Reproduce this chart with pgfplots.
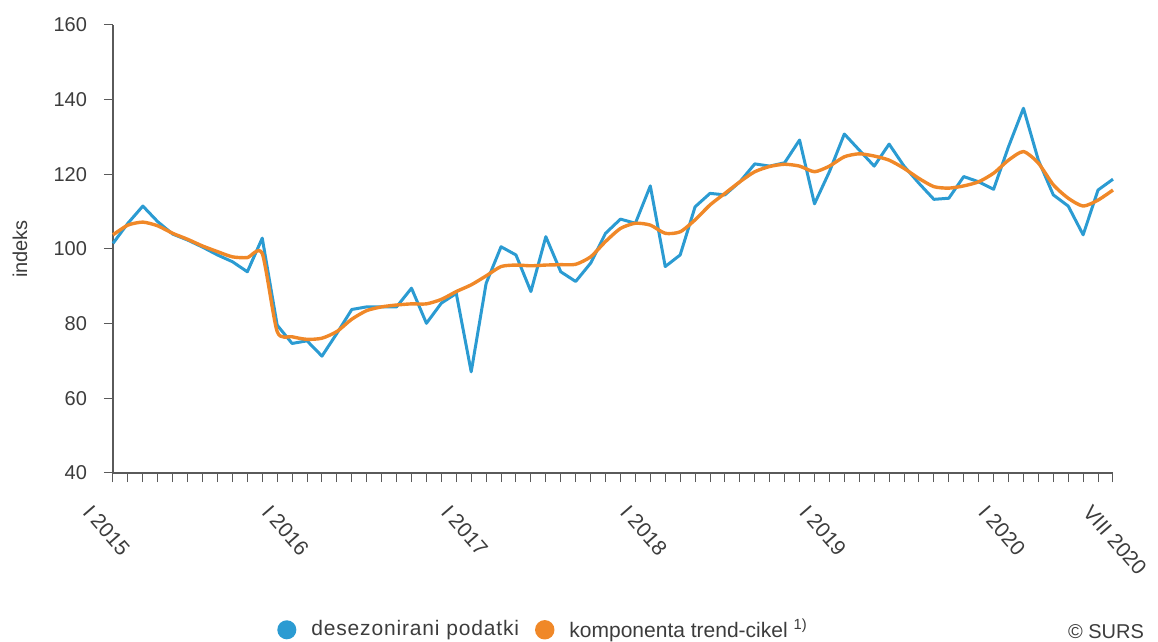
\documentclass[border=0pt]{standalone}
\usepackage{pgfplots}
\pgfplotsset{compat=1.18}
\usepackage{pgfplotstable}
\usepackage{fontspec}
\setmainfont{Liberation Sans}
\definecolor{sblue}{RGB}{43,155,210}
\definecolor{sorange}{RGB}{240,136,40}
\definecolor{axgray}{RGB}{90,90,90}
\definecolor{txtgray}{RGB}{60,60,60}
\pgfplotstableread{
i v
0 101.5
1 106.9
2 111.5
3 107.3
4 104.0
5 102.4
6 100.5
7 98.4
8 96.6
9 93.9
10 102.9
11 79.6
12 74.7
13 75.4
14 71.3
15 77.4
16 83.8
17 84.5
18 84.5
19 84.5
20 89.5
21 80.1
22 85.5
23 88.1
24 67.1
25 90.8
26 100.6
27 98.4
28 88.6
29 103.3
30 93.9
31 91.3
32 96.2
33 104.2
34 108.0
35 106.9
36 116.9
37 95.3
38 98.4
39 111.3
40 114.9
41 114.5
42 118.0
43 122.8
44 122.2
45 123.1
46 129.2
47 112.1
48 120.7
49 130.8
50 126.5
51 122.2
52 128.1
53 122.2
54 117.6
55 113.3
56 113.6
57 119.4
58 118.0
59 116.0
60 127.4
61 137.7
62 123.8
63 114.5
64 111.5
65 103.8
66 115.8
67 118.7
}\desez
\pgfplotstableread{
i v
0 103.8
1 106.4
2 107.2
3 106.2
4 104.2
5 102.6
6 100.8
7 99.3
8 97.9
9 97.7
10 98.8
11 77.9
12 76.5
13 75.8
14 76.1
15 77.9
16 81.2
17 83.5
18 84.5
19 85.0
20 85.3
21 85.3
22 86.5
23 88.6
24 90.4
25 92.8
26 95.3
27 95.7
28 95.5
29 95.7
30 95.8
31 95.9
32 97.9
33 102.0
34 105.5
35 106.9
36 106.4
37 104.2
38 104.6
39 107.8
40 111.8
41 114.9
42 118.0
43 120.7
44 122.1
45 122.7
46 122.2
47 120.7
48 122.2
49 124.7
50 125.5
51 124.9
52 123.8
53 121.6
54 118.9
55 116.7
56 116.3
57 116.9
58 118.0
59 120.3
60 123.8
61 126.1
62 123.0
63 117.2
64 113.6
65 111.5
66 113.1
67 115.8
}\trend
\begin{document}
\begin{tikzpicture}
\useasboundingbox (-56.5pt,-84.5pt) rectangle (522.5pt,236.5pt);
\begin{axis}[
  at={(0,0)}, anchor=south west,
  scale only axis, width=500pt, height=224pt,
  xmin=0, xmax=67, ymin=40, ymax=160,
  axis lines*=left,
  axis line style={axgray, line width=0.6pt, -},
  tick style={axgray, line width=0.5pt},
  tick align=outside,
  major tick length=4.5pt, minor tick length=4.5pt,
  ytick={40,60,...,160},
  xtick={0,12,24,36,48,60,67},
  xticklabels={I 2015, I 2016, I 2017, I 2018, I 2019, I 2020, VIII 2020},
  minor xtick={0,...,67},
  font=\fontsize{10}{12}\selectfont,
  /pgf/number format/assume math mode=true,
  ticklabel style={text=txtgray},
  yticklabel style={anchor=east, xshift=-5pt},
  xticklabel style={xshift=-10pt, yshift=-10.5pt, rotate=-49, anchor=north west, inner sep=0pt, font=\fontsize{10.5}{12}\selectfont},
  ylabel={indeks},
  every axis y label/.style={at={(axis description cs:-0.093,0.5)}, rotate=90, anchor=center, text=txtgray},
  legend columns=2,
  legend style={at={(axis description cs:0.4315,-0.35)}, anchor=center, draw=none, fill=none,
    font=\fontsize{10.5}{12}\selectfont, text=txtgray,
    /tikz/every even column/.append style={column sep=6pt}},
  legend image code/.code={\fill[#1] (0.35em,0) circle (0.4em); \path (1.3em,0);},
  clip=false,
]
\addplot[sblue, line width=1.5pt, line join=round] table[x=i, y=v] {\desez};
\addlegendentry{{\addfontfeature{LetterSpace=4}desezonirani podatki}}
\addplot[sorange, line width=1.7pt, line join=round, smooth, tension=0.4] table[x=i, y=v] {\trend};
\addlegendentry{komponenta trend-cikel \textsuperscript{1)}}
\end{axis}
\node[text=txtgray, font=\fontsize{10}{12}\selectfont] at (496.5pt,-79.5pt) {© SURS};
\end{tikzpicture}
\end{document}
